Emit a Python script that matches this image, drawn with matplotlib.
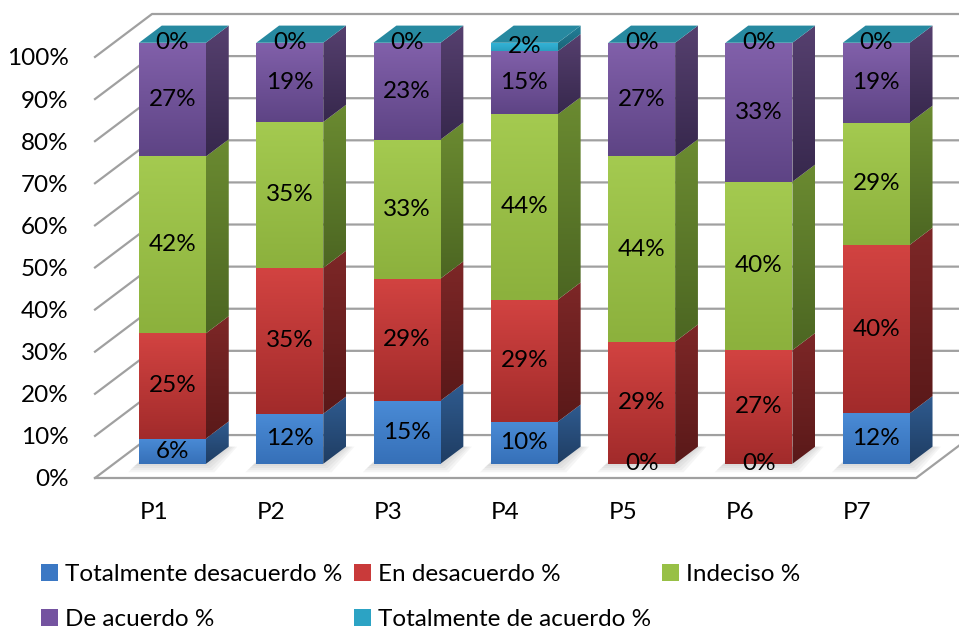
import numpy as np
import matplotlib.pyplot as plt
from matplotlib.patches import Polygon, Patch
from matplotlib.colors import to_rgb

plt.rcParams['font.family'] = ['Lato', 'DejaVu Sans']

categories = ['P1', 'P2', 'P3', 'P4', 'P5', 'P6', 'P7']
totalmente_desacuerdo = [6, 12, 15, 10, 0, 0, 12]
en_desacuerdo = [25, 35, 29, 29, 29, 27, 40]
indeciso = [42, 35, 33, 44, 44, 40, 29]
de_acuerdo = [27, 19, 23, 15, 27, 33, 19]
totalmente_de_acuerdo = [0, 0, 0, 2, 0, 0, 0]
series_names = ['Totalmente desacuerdo %', 'En desacuerdo %', 'Indeciso %',
                'De acuerdo %', 'Totalmente de acuerdo %']
y_ticks = list(range(0, 101, 10))

# front top, front bottom, side top, side bottom
shades = [
    ('#4a8bd6', '#3670b8', '#2f5b8f', '#1f3d63'),
    ('#d24341', '#a22b2b', '#7d2727', '#5a1919'),
    ('#a4ca50', '#8cb13d', '#6b8b31', '#4c6622'),
    ('#8160aa', '#5e4485', '#56406f', '#37284d'),
    ('#34b5d8', '#2a9fc0', '#23809a', '#1b6477'),
]
top_face = '#2789a0'
legend_cols = ['#3b78c4', '#c93a3a', '#98c046', '#7453a0', '#2ca3c4']

series = np.array([totalmente_desacuerdo, en_desacuerdo, indeciso,
                   de_acuerdo, totalmente_de_acuerdo], dtype=float)
pct = series / series.sum(axis=0) * 100
bottoms = np.vstack([np.zeros(len(categories)), np.cumsum(pct, axis=0)[:-1]])

# pseudo 3D geometry (data units)
DEPTH_X, DEPTH_Y = 0.486, 10.2
OX, OY = 0.33 * DEPTH_X, 0.33 * DEPTH_Y
DX, DY = 0.4 * DEPTH_X, 0.4 * DEPTH_Y
BAR_W = 0.571
XMIN, XMAX = -0.5, 6.866
FS = 17.5

fig = plt.figure(figsize=(9.59, 6.3), dpi=100)
ax = fig.add_axes([95 / 959, (630 - 478) / 630, 864 / 959, 464 / 630])


def grad_fill(verts, c_top, c_bot, z):
    verts = np.array(verts)
    poly = Polygon(verts, closed=True, facecolor='none', edgecolor='none',
                   transform=ax.transData)
    ax.add_patch(poly)
    t = np.linspace(0, 1, 64)[:, None]
    col = (1 - t) * np.array(to_rgb(c_bot)) + t * np.array(to_rgb(c_top))
    ext = [verts[:, 0].min(), verts[:, 0].max(), verts[:, 1].min(), verts[:, 1].max()]
    im = ax.imshow(col[:, None, :], extent=ext, origin='lower', aspect='auto',
                   interpolation='bilinear', zorder=z)
    im.set_clip_path(poly)


# grid lines on the walls
for v in y_ticks:
    ax.plot([XMIN, XMIN + DEPTH_X, XMAX + 1], [v, v + DEPTH_Y, v + DEPTH_Y],
            color='#a0a0a0', lw=1.6, zorder=1, clip_on=False)
ax.plot([XMIN, 6.5, 6.5 + DEPTH_X], [0, 0, DEPTH_Y], color='#a0a0a0', lw=1.6,
        zorder=1, clip_on=False)

for i in range(len(categories)):
    x0 = i + OX - BAR_W / 2
    x1 = x0 + BAR_W
    # soft shadow on the floor
    for k in range(1, 5):
        e = 0.018 * k
        ax.add_patch(Polygon([(x0 - e - 0.02, OY - 0.5 * k), (x1 + e, OY - 0.5 * k),
                              (x1 + DX + e, OY + DY), (x0 + DX - e, OY + DY)],
                             closed=True, facecolor='#7a7a7a', edgecolor='none',
                             alpha=0.07, zorder=2))
    for s in range(len(series)):
        b, h = bottoms[s, i], pct[s, i]
        if h <= 0:
            continue
        ft, fb, st, sb = shades[s]
        grad_fill([(x0, OY + b), (x1, OY + b), (x1, OY + b + h), (x0, OY + b + h)],
                  ft, fb, 3)
        grad_fill([(x1, OY + b), (x1 + DX, OY + b + DY), (x1 + DX, OY + b + h + DY),
                   (x1, OY + b + h)], st, sb, 3)
    top = OY + 100
    ax.add_patch(Polygon([(x0, top), (x1, top), (x1 + DX, top + DY), (x0 + DX, top + DY)],
                         closed=True, facecolor=top_face, edgecolor='none', zorder=4))
    for s in range(len(series)):
        ax.text(i + OX, OY + bottoms[s, i] + pct[s, i] / 2, f'{int(series[s, i])}%',
                ha='center', va='center', fontsize=FS, color='black', zorder=6)

ax.set_xlim(XMIN, XMAX)
ax.set_ylim(0, 110.2)
ax.set_yticks(y_ticks)
ax.set_yticklabels([f'{v}%' for v in y_ticks], fontsize=FS)
ax.set_xticks(range(len(categories)))
ax.set_xticklabels(categories, fontsize=FS)
ax.tick_params(axis='y', length=0, pad=19)
ax.tick_params(axis='x', length=0, pad=17)
for sp in ax.spines.values():
    sp.set_visible(False)
ax.patch.set_alpha(0)

handles = [Patch(facecolor=c, edgecolor='none') for c in legend_cols]
order = [0, 3, 1, 4, 2]
fig.legend([handles[k] for k in order], [series_names[k] for k in order],
           ncol=3, loc='upper left', bbox_to_anchor=(29 / 959, 1 - 552 / 630),
           frameon=False, fontsize=FS, handlelength=0.7, handleheight=0.7,
           handletextpad=0.3, columnspacing=0.45, labelspacing=0.97, borderpad=0)

fig.savefig('out.png', dpi=100)
